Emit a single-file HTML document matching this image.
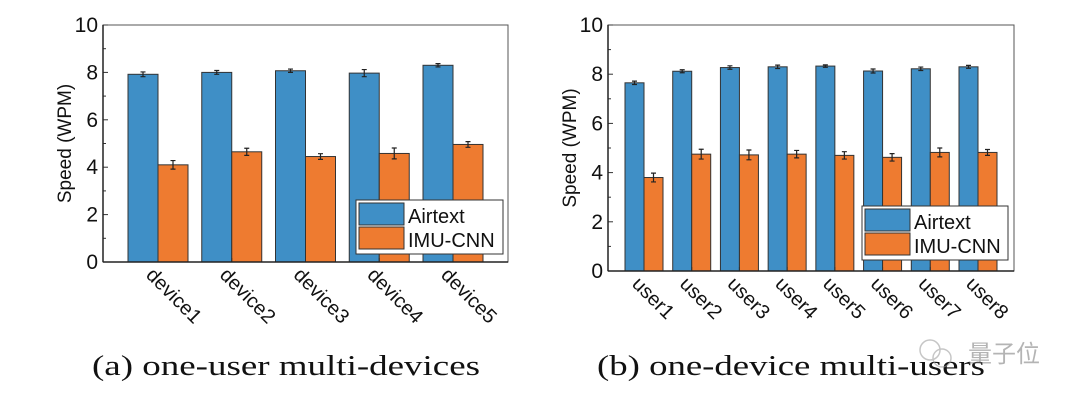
<!DOCTYPE html>
<html><head><meta charset="utf-8"><style>
html,body{margin:0;padding:0;background:#fff;}
svg{display:block;font-family:"Liberation Sans",Arial,sans-serif;}
</style></head><body>
<svg id="fig" width="1080" height="405" viewBox="0 0 1080 405">
<text x="92" y="375" font-family="Liberation Serif, serif" font-size="29" textLength="388" lengthAdjust="spacingAndGlyphs" fill="#111">(a) one-user multi-devices</text>
<text x="597" y="375" font-family="Liberation Serif, serif" font-size="29" textLength="388" lengthAdjust="spacingAndGlyphs" fill="#111">(b) one-device multi-users</text>
<g opacity="0.55">
<circle cx="930" cy="350" r="10" fill="none" stroke="#999" stroke-width="1.5"/>
<circle cx="942" cy="358" r="9" fill="none" stroke="#999" stroke-width="1.5"/>
<text x="968" y="362" font-family="Noto Sans CJK SC, sans-serif" font-size="24" fill="#777">量子位</text>
</g>
</svg>
<script>
const catsA = ["device1","device2","device3","device4","device5"];
const airA = [7.92,8.0,8.07,7.97,8.3];
const airErrA = [0.1,0.08,0.07,0.15,0.07];
const imuA = [4.1,4.65,4.45,4.58,4.96];
const imuErrA = [0.18,0.15,0.12,0.23,0.12];
const catsB = ["user1","user2","user3","user4","user5","user6","user7","user8"];
const airB = [7.65,8.12,8.27,8.3,8.33,8.13,8.22,8.3];
const airErrB = [0.07,0.06,0.07,0.07,0.05,0.08,0.07,0.06];
const imuB = [3.8,4.75,4.72,4.75,4.7,4.62,4.82,4.82];
const imuErrB = [0.18,0.2,0.2,0.15,0.15,0.15,0.18,0.12];
const yTicks = [0,2,4,6,8,10];
const seriesNames = ["Airtext","IMU-CNN"];
const BLUE="#3f8fc6", ORANGE="#ee7b30";
const NS="http://www.w3.org/2000/svg";
const svg=document.getElementById('fig');
function mk(tag,attrs,parent){const e=document.createElementNS(NS,tag);for(const k in attrs)e.setAttribute(k,attrs[k]);(parent||svg).appendChild(e);return e;}

function chart(cfg){
  const g=mk('g',{});
  
  
  const {L,R,T,B}=cfg;
  const y=v=>B-(v/10)*(B-T);
  const n=cfg.cats.length;
  const step=(R-L-cfg.pad*2)/(n-1);
  const cx=i=>L+cfg.pad+i*step;
  const bw=cfg.bw;
  mk('rect',{x:L,y:T,width:R-L,height:B-T,fill:'none',stroke:'#555','stroke-width':1},g);
  yTicks.forEach(t=>{
    const tk=mk('line',{x1:L,x2:L+5,y1:y(t),y2:y(t),stroke:'#333','stroke-width':1},g);
    
    
    if(t<10){mk('line',{x1:L,x2:L+3,y1:y(t+1),y2:y(t+1),stroke:'#333','stroke-width':1},g);}
    const lb=mk('text',{x:L-5,y:y(t)+7,'font-size':21,'text-anchor':'end',fill:'#111'},g);
    lb.textContent=t;
    
    
  });
  const yt=mk('text',{x:0,y:0,'font-size':19,'text-anchor':'middle',fill:'#111',transform:`translate(${L-32},${(T+B)/2}) rotate(-90)`},g);
  yt.textContent="Speed (WPM)";
  
  
  cfg.cats.forEach((c,i)=>{
    const c0=cx(i);
    [[cfg.air,cfg.airErr,BLUE,c0-bw,'bar-airtext'],[cfg.imu,cfg.imuErr,ORANGE,c0,'bar-imu-cnn']].forEach(([vals,errs,col,x0,nm])=>{
      const r=mk('rect',{x:x0,y:y(vals[i]),width:bw,height:y(0)-y(vals[i]),fill:col,stroke:'#333','stroke-width':1},g);
      
      
      const ex=x0+bw/2;
      const e=mk('path',{d:`M${ex},${y(vals[i]+errs[i])}V${y(vals[i]-errs[i])}M${ex-2.5},${y(vals[i]+errs[i])}h5M${ex-2.5},${y(vals[i]-errs[i])}h5`,stroke:'#222','stroke-width':1.2,fill:'none'},g);
      
      
    });
    mk('line',{x1:c0,x2:c0,y1:B,y2:B-4,stroke:'#333'},g);
    const xl=mk('text',{x:0,y:0,'font-size':20,fill:'#111',transform:`translate(${c0-13},${B+14}) rotate(45)`},g);
    xl.textContent=c;
    
    
  });
  mk('line',{x1:L,x2:R,y1:B,y2:B,stroke:'#222','stroke-width':1.5},g);
  mk('line',{x1:L,x2:L,y1:T,y2:B,stroke:'#222','stroke-width':1.5},g);
  const lg=mk('g',{},g);
  
  
  const [lx,ly,lw,lh]=cfg.leg;
  mk('rect',{x:lx,y:ly,width:lw,height:lh,fill:'#fff',stroke:'#333','stroke-width':1},lg);
  [BLUE,ORANGE].forEach((col,k)=>{
    const sy=ly+3+k*(lh-6)/2;
    const sw=mk('rect',{x:lx+3,y:sy,width:45,height:(lh-6)/2-2,fill:col,stroke:'#333'},lg);
    
    
    const t=mk('text',{x:lx+52,y:sy+20,'font-size':20,fill:'#111'},lg);
    t.textContent=seriesNames[k];
    
    
  });
}
chart({name:'chart-a',L:103,R:508,T:25,B:262,pad:55,bw:30,cats:catsA,air:airA,airErr:airErrA,imu:imuA,imuErr:imuErrA,leg:[356,200,147,54]});
chart({name:'chart-b',L:608,R:1014,T:25,B:271,pad:36,bw:19,cats:catsB,air:airB,airErr:airErrB,imu:imuB,imuErr:imuErrB,leg:[862,206,146,54]});
</script>
</body></html>
